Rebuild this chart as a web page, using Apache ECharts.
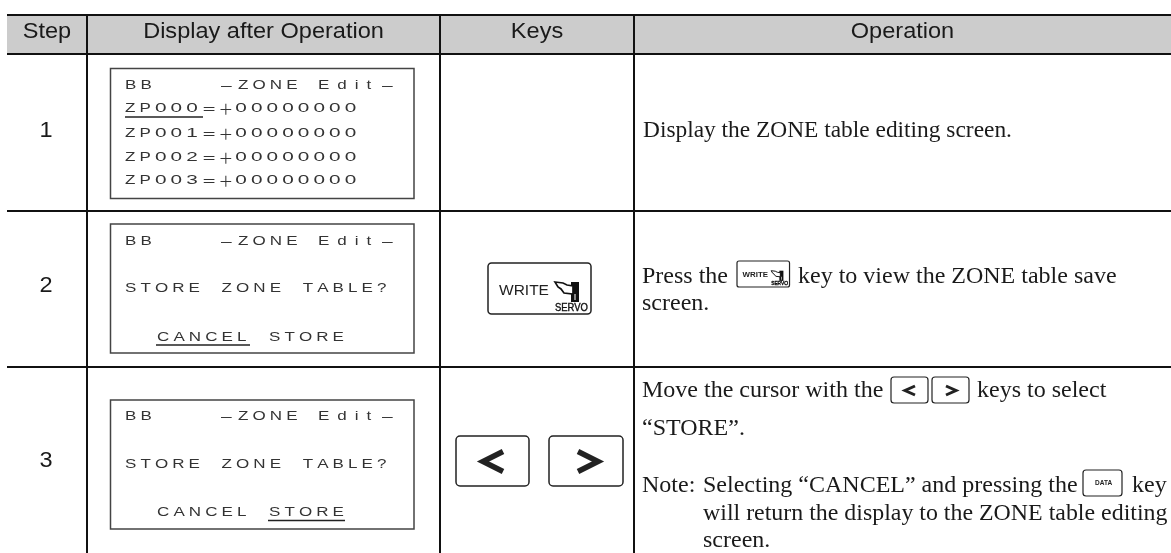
<!DOCTYPE html>
<html><head><meta charset="utf-8">
<style>html,body{margin:0;padding:0;background:#fff}#c{width:1171px;height:553px}</style>
<script src="https://cdn.jsdelivr.net/npm/echarts@6/dist/echarts.min.js"></script>
</head><body><div id="c"></div>
<script>
var headers = ['Step','Display after Operation','Keys','Operation'];
var steps = ['1','2','3'];
var lcdZoneLines = ['ZP000＝＋00000000','ZP001＝＋00000000','ZP002＝＋00000000','ZP003＝＋00000000'];
var lcdTitle = ['BB','－','ZONE','Edit','－'];
var storeTitle = 'STORE ZONE TABLE?';
var cancelWord = 'CANCEL';
var storeWord = 'STORE';
var opDisplay = 'Display the ZONE table editing screen.';
var opPressA = 'Press the';
var opPressB = 'key to view the ZONE table save';
var opScreen = 'screen.';
var opMoveA = 'Move the cursor with the';
var opMoveB = 'keys to select';
var opStore = '“STORE”.';
var opNoteLabel = 'Note:';
var opNoteA = 'Selecting “CANCEL” and pressing the';
var opNoteB = 'key';
var opNoteC = 'will return the display to the ZONE table editing';

var columnEdges = [7, 87, 440, 634, 1171];

var chart = echarts.init(document.getElementById('c'), null, {renderer:'canvas'});
var G = [];
var SANS='"Liberation Sans"', SERIF='"Liberation Serif"';
var INK='#1a1a1a', KEY='#222';
var mctx = document.createElement('canvas').getContext('2d');
function rect(x,y,w,h,fill,stroke,lw,r){G.push({type:'rect',shape:{x:x,y:y,width:w,height:h,r:r||0},style:{fill:fill||'none',stroke:stroke||'none',lineWidth:lw||0}});}
function line(x1,y1,x2,y2,lw,c){G.push({type:'line',shape:{x1:x1,y1:y1,x2:x2,y2:y2},style:{stroke:c||'#111',lineWidth:lw}});}
function text(s,x,y,size,font,align,color,sx,weight){G.push({type:'text',x:x,y:y+2,scaleX:sx||1,style:{text:s,font:(weight?weight+' ':'')+size+'px '+font,fill:color||INK,textAlign:align||'left',textVerticalAlign:'middle'}});}
function chev(cx,cy,w,h,dir,lw){G.push({type:'polyline',shape:{points:[[cx-dir*w/2,cy-h/2],[cx+dir*w/2,cy],[cx-dir*w/2,cy+h/2]]},style:{stroke:KEY,fill:'none',lineWidth:lw,lineJoin:'miter'}});}
function lcd(s,x,y,gap){
  var g=gap===undefined?4.1:gap, cx=x;
  for(var i=0;i<s.length;i++){
    var ch=s[i], wide=/[＝＋－]/.test(ch), digit=/[0-9]/.test(ch);
    if(ch===' '){cx+=17.5;continue;}
    var f=wide?'14px "Noto Sans CJK JP"':'12.5px '+SANS;
    mctx.font=f;
    var sx=wide?1.05:(digit?1.66:1.36), w=mctx.measureText(ch).width*sx;
    G.push({type:'text',x:cx,y:y+1,scaleX:sx,style:{text:ch,font:f,fill:'#333',textAlign:'left',textVerticalAlign:'middle'}});
    cx+=w+(wide?2:g);
  }
}
function titleLine(y){lcd(lcdTitle[0],125,y);lcd(lcdTitle[1],219,y);lcd(lcdTitle[2],238,y);lcd(lcdTitle[3],318,y,8);lcd(lcdTitle[4],380,y);}
function writeIcon(x,y,s,lw){
  function X(v){return x+v*s;} function Y(v){return y+v*s;}
  rect(x,y,103*s,51*s,'#fff',KEY,lw,3*s+0.5);
  G.push({type:'text',x:X(11),y:Y(27.5),style:{text:'WRITE',font:(s<1?'bold ':'')+15.5*s+'px '+SANS,fill:KEY,textVerticalAlign:'middle'}});
  G.push({type:'text',x:X(67),y:Y(45),scaleX:0.9,style:{text:'SERVO',font:10.5*s+'px '+SANS,fill:'#111',stroke:'#111',lineWidth:0.4,textVerticalAlign:'middle'}});
  rect(X(83),Y(19),8*s,20*s,'#111');
  rect(X(86.5),Y(31),Math.max(s,.6),6*s,'#fff');
  G.push({type:'polygon',shape:{points:[[X(67),Y(19)],[X(75),Y(20)],[X(79),Y(22)],[X(85),Y(23)],[X(85),Y(31)],[X(76),Y(30)],[X(73),Y(26)],[X(70),Y(24)]]},style:{fill:'#fff',stroke:'#111',lineWidth:1.5*s+.2}});
}
// header
rect(7,15,1164,39,'#cccccc');
headers.forEach(function(h,i){text(h,(columnEdges[i]+columnEdges[i+1])/2,30,22,SANS,'center',INK,1.07);});
// grid
[15,54,211,367].forEach(function(y){line(7,y,1171,y,2);});
[87,440,634].forEach(function(x){line(x,15,x,553,2);});
// steps
[129,284,459].forEach(function(y,i){text(steps[i],46,y,22,SANS,'center',INK,1.07);});
// LCD boxes
var bx=110.5,bw=303.5;
rect(bx,68.5,bw,130,'#fff','#444',1.5);
rect(bx,224,bw,129,'#fff','#444',1.5);
rect(bx,400,bw,129,'#fff','#444',1.5);
titleLine(85);
[108,133,157,180].forEach(function(y,i){lcd(lcdZoneLines[i],125,y);});
line(125,117,203,117,1.5,'#222');
titleLine(241); lcd(storeTitle,125,288);
lcd(cancelWord,157,337); lcd(storeWord,269,337);
line(156,345,250,345,1.5,'#222');
titleLine(416); lcd(storeTitle,125,464);
lcd(cancelWord,157,512); lcd(storeWord,269,512);
line(268,520.5,345,520.5,1.5,'#222');
// key icons
writeIcon(488,263,1,1.5);
rect(456,436,73,50,'#fff',KEY,1.5,4);
rect(549,436,74,50,'#fff',KEY,1.5,4);
chev(493,461.5,20,20,-1,5.5);
chev(588,461.5,20,20,1,5.5);
// operation text
var F=24;
text(opDisplay,643,129,23.4,SERIF);
text(opPressA,642,275,F,SERIF);
writeIcon(737,261,0.51,1.2);
text(opPressB,798,275,F,SERIF);
text(opScreen,642,302,F,SERIF);
text(opMoveA,642,389,F,SERIF);
rect(891,377,37,26,'#fff',KEY,1.2,3);
rect(932,377,37,26,'#fff',KEY,1.2,3);
chev(910,390.5,10,9,-1,3);
chev(951,390.5,10,9,1,3);
text(opMoveB,977,389,F,SERIF);
text(opStore,642,427,F,SERIF);
text(opNoteLabel,642,484,F,SERIF);
text(opNoteA,703,484,F,SERIF);
rect(1083,470,39,26,'#fff',KEY,1.2,3);
text('DATA',1095,481,6.5,SANS,'left',KEY,1,'bold');
text(opNoteB,1132,484,F,SERIF);
text(opNoteC,703,512,23.9,SERIF);
text(opScreen,703,539,F,SERIF);
chart.setOption({animation:false,graphic:{elements:G},series:[]});
</script></body></html>
